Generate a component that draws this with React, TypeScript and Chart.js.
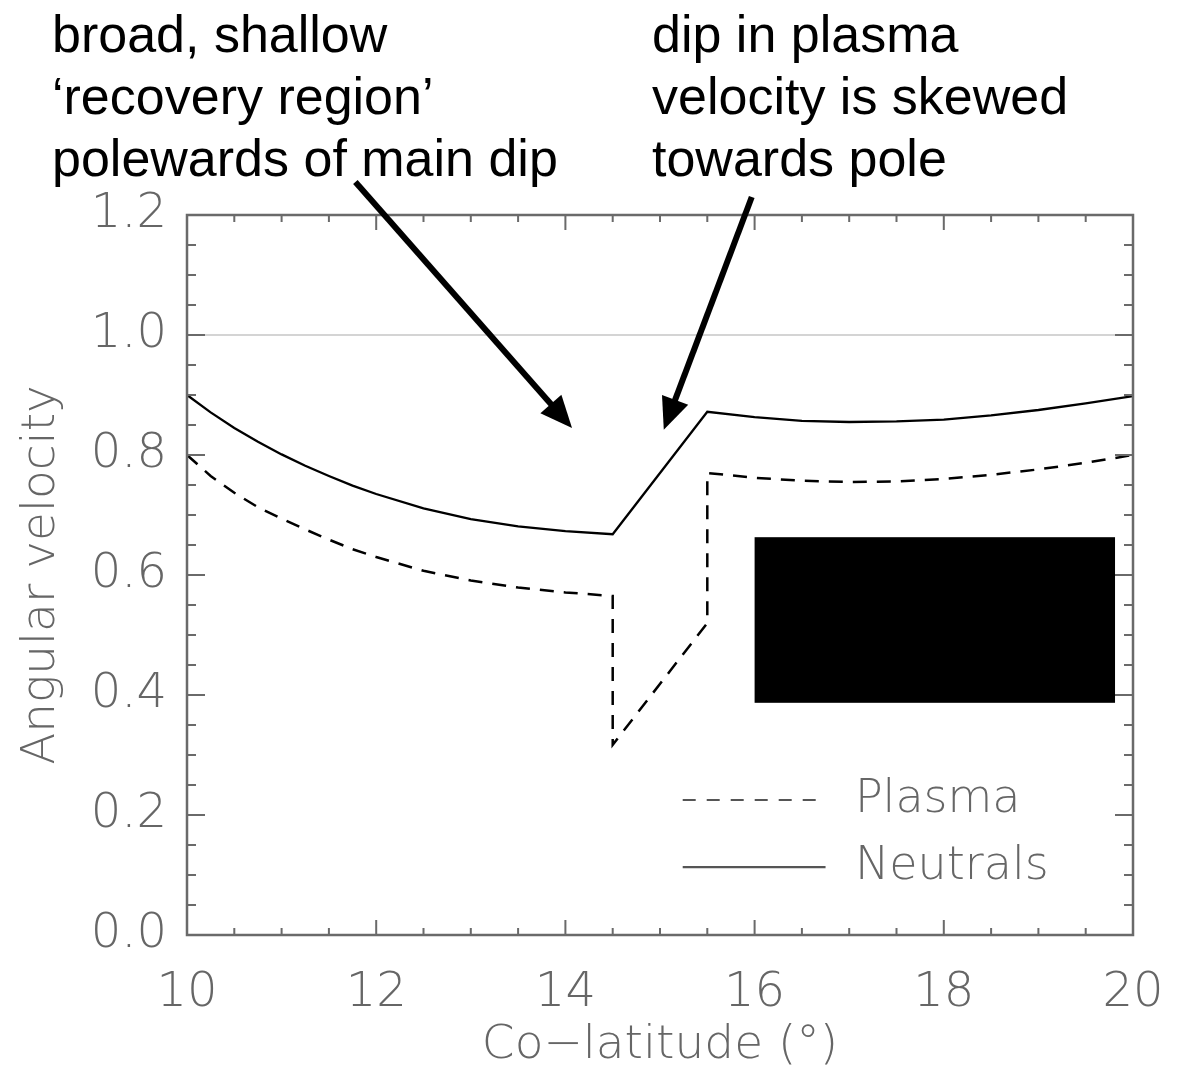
import { useEffect, useRef } from 'react';
import { Chart, registerables } from 'chart.js';

Chart.register(...registerables);

// ---- data ----
const neutralsColat = [10, 10.25, 10.5, 10.75, 11, 11.25, 11.5, 11.75, 12, 12.5, 13, 13.5, 14, 14.5, 15.5, 16, 16.5, 17, 17.5, 18, 18.5, 19, 19.5, 20];
const neutralsOmega = [0.9, 0.871, 0.845, 0.822, 0.801, 0.782, 0.765, 0.749, 0.735, 0.711, 0.693, 0.681, 0.673, 0.668, 0.872, 0.863, 0.857, 0.855, 0.856, 0.859, 0.866, 0.875, 0.886, 0.898];

const plasmaColat = [10, 10.25, 10.5, 10.75, 11, 11.25, 11.5, 11.75, 12, 12.5, 13, 13.5, 14, 14.5, 14.5, 15.5, 15.5, 16, 16.5, 17, 17.5, 18, 18.5, 19, 19.5, 20];
const plasmaOmega = [0.8, 0.765, 0.737, 0.713, 0.694, 0.676, 0.659, 0.643, 0.63, 0.607, 0.591, 0.579, 0.571, 0.565, 0.317, 0.52, 0.77, 0.762, 0.757, 0.755, 0.756, 0.76, 0.767, 0.776, 0.787, 0.8];

const xTickValues = [10, 12, 14, 16, 18, 20];
const yTickValues = [0, 0.2, 0.4, 0.6, 0.8, 1.0, 1.2];
const xMinorStep = 0.5;
const yMinorStep = 0.05;
const xTitle = 'Co\u2212latitude (\u00b0)';
const yTitle = 'Angular velocity';
const legendLabels = ['Plasma', 'Neutrals'];
const corotationLevel = 1.0;

const noteLeft = ['broad, shallow', '\u2018recovery region\u2019', 'polewards of main dip'];
const noteRight = ['dip in plasma', 'velocity is skewed', 'towards pole'];

// arrows, mask and legend anchors in data coordinates
const arrowLeftFrom = [11.78, 1.255];
const arrowLeftTo = [14.07, 0.845];
const arrowRightFrom = [15.97, 1.23];
const arrowRightTo = [15.04, 0.842];
const maskX = [16.0, 19.81];
const maskY = [0.387, 0.663];
const legendLineX = [15.24, 16.75];
const legendTextX = 17.06;
const legendY = [0.225, 0.113];

const AXIS_FONT = '"DejaVu Sans", sans-serif';
const AXIS_COLOR = '#666666';
const NOTE_FONT = '"Liberation Sans", Arial, sans-serif';

function drawArrow(ctx: CanvasRenderingContext2D, x0: number, y0: number, x1: number, y1: number) {
  const ang = Math.atan2(y1 - y0, x1 - x0);
  const headLen = 32;
  const headW = 14;
  const bx = x1 - headLen * Math.cos(ang);
  const by = y1 - headLen * Math.sin(ang);
  ctx.strokeStyle = '#000';
  ctx.lineWidth = 6;
  ctx.lineCap = 'butt';
  ctx.beginPath();
  ctx.moveTo(x0, y0);
  ctx.lineTo(bx + 4 * Math.cos(ang), by + 4 * Math.sin(ang));
  ctx.stroke();
  ctx.fillStyle = '#000';
  ctx.beginPath();
  ctx.moveTo(x1, y1);
  ctx.lineTo(bx + headW * Math.sin(ang), by - headW * Math.cos(ang));
  ctx.lineTo(bx - headW * Math.sin(ang), by + headW * Math.cos(ang));
  ctx.closePath();
  ctx.fill();
}

const decoPlugin = {
  id: 'deco',
  beforeDatasetsDraw(chart: any) {
    const { ctx, chartArea: a, scales } = chart;
    const y = scales.y;
    ctx.save();
    ctx.strokeStyle = '#d4d4d4';
    ctx.lineWidth = 2;
    const yy = y.getPixelForValue(corotationLevel);
    ctx.beginPath();
    ctx.moveTo(a.left, yy);
    ctx.lineTo(a.right, yy);
    ctx.stroke();
    ctx.restore();
  },
  afterDatasetsDraw(chart: any) {
    const { ctx, chartArea: a, scales } = chart;
    const x = scales.x;
    const y = scales.y;
    ctx.save();
    // frame
    ctx.strokeStyle = '#6a6a6a';
    ctx.lineWidth = 2.5;
    ctx.strokeRect(a.left, a.top, a.right - a.left, a.bottom - a.top);
    // ticks
    ctx.lineWidth = 2;
    ctx.beginPath();
    const nx = Math.round((x.max - x.min) / xMinorStep);
    for (let i = 0; i <= nx; i++) {
      const v = x.min + i * xMinorStep;
      const major = xTickValues.some((t) => Math.abs(t - v) < 1e-6);
      const len = major ? 15 : 7;
      const px = x.getPixelForValue(v);
      ctx.moveTo(px, a.bottom);
      ctx.lineTo(px, a.bottom - len);
      ctx.moveTo(px, a.top);
      ctx.lineTo(px, a.top + len);
    }
    const ny = Math.round((y.max - y.min) / yMinorStep);
    for (let i = 0; i <= ny; i++) {
      const v = y.min + i * yMinorStep;
      const major = yTickValues.some((t) => Math.abs(t - v) < 1e-6);
      const len = major ? 18 : 9;
      const py = y.getPixelForValue(v);
      ctx.moveTo(a.left, py);
      ctx.lineTo(a.left + len, py);
      ctx.moveTo(a.right, py);
      ctx.lineTo(a.right - len, py);
    }
    ctx.stroke();

    // mask box
    ctx.fillStyle = '#000';
    const mx0 = x.getPixelForValue(maskX[0]);
    const mx1 = x.getPixelForValue(maskX[1]);
    const my0 = y.getPixelForValue(maskY[1]);
    const my1 = y.getPixelForValue(maskY[0]);
    ctx.fillRect(mx0, my0, mx1 - mx0, my1 - my0);

    // legend
    ctx.strokeStyle = '#555';
    ctx.lineWidth = 2.2;
    ctx.font = `200 46px ${AXIS_FONT}`;
    ctx.fillStyle = AXIS_COLOR;
    ctx.textBaseline = 'middle';
    ctx.textAlign = 'left';
    const lx0 = x.getPixelForValue(legendLineX[0]);
    const lx1 = x.getPixelForValue(legendLineX[1]);
    const tx = x.getPixelForValue(legendTextX);
    legendLabels.forEach((lab, i) => {
      const ly = y.getPixelForValue(legendY[i]);
      ctx.setLineDash(i === 0 ? [13, 11] : []);
      ctx.beginPath();
      ctx.moveTo(lx0, ly);
      ctx.lineTo(lx1, ly);
      ctx.stroke();
      ctx.fillText(lab, tx, ly);
    });
    ctx.setLineDash([]);

    // arrows
    drawArrow(
      ctx,
      x.getPixelForValue(arrowLeftFrom[0]), y.getPixelForValue(arrowLeftFrom[1]),
      x.getPixelForValue(arrowLeftTo[0]), y.getPixelForValue(arrowLeftTo[1])
    );
    drawArrow(
      ctx,
      x.getPixelForValue(arrowRightFrom[0]), y.getPixelForValue(arrowRightFrom[1]),
      x.getPixelForValue(arrowRightTo[0]), y.getPixelForValue(arrowRightTo[1])
    );

    // notes
    ctx.fillStyle = '#000';
    ctx.font = `52px ${NOTE_FONT}`;
    ctx.textBaseline = 'alphabetic';
    ctx.textAlign = 'left';
    const baselines = [52, 114, 176];
    noteLeft.forEach((t, i) => ctx.fillText(t, 52, baselines[i]));
    noteRight.forEach((t, i) => ctx.fillText(t, 652, baselines[i]));
    ctx.restore();
  },
};

export default function App() {
  const ref = useRef<HTMLCanvasElement | null>(null);
  useEffect(() => {
    if (!ref.current) return;
    const chart = new Chart(ref.current, {
      type: 'line',
      data: {
        datasets: [
          {
            label: legendLabels[0],
            data: plasmaColat.map((c, i) => ({ x: c, y: plasmaOmega[i] })),
            borderColor: '#000',
            borderWidth: 2.5,
            borderDash: [14, 10],
            pointRadius: 0,
            fill: false,
            tension: 0,
          },
          {
            label: legendLabels[1],
            data: neutralsColat.map((c, i) => ({ x: c, y: neutralsOmega[i] })),
            borderColor: '#000',
            borderWidth: 2.3,
            pointRadius: 0,
            fill: false,
            tension: 0,
          },
        ],
      },
      options: {
        animation: false,
        responsive: false,
        maintainAspectRatio: false,
        events: [],
        layout: { padding: { top: 215, right: 45, left: 0, bottom: 0 } },
        plugins: { legend: { display: false }, tooltip: { enabled: false }, title: { display: false } },
        scales: {
          x: {
            type: 'linear',
            min: 10,
            max: 20,
            grid: { display: false, drawTicks: false },
            border: { display: false },
            afterBuildTicks: (s: any) => {
              s.ticks = xTickValues.map((v) => ({ value: v }));
            },
            afterFit: (s: any) => {
              s.height = 139;
              s.paddingLeft = 0;
              s.paddingRight = 0;
            },
            ticks: {
              autoSkip: false,
              maxRotation: 0,
              padding: 30,
              color: AXIS_COLOR,
              font: { family: AXIS_FONT, size: 48, weight: '200' },
              callback: (v: any) => String(v),
            },
            title: {
              display: true,
              text: xTitle,
              color: AXIS_COLOR,
              font: { family: AXIS_FONT, size: 47, weight: '200' },
              padding: { top: 0, bottom: 0 },
            },
          },
          y: {
            type: 'linear',
            min: 0,
            max: 1.2,
            grid: { display: false, drawTicks: false },
            border: { display: false },
            afterBuildTicks: (s: any) => {
              s.ticks = yTickValues.map((v) => ({ value: v }));
            },
            afterFit: (s: any) => {
              s.width = 187;
              s.paddingTop = 0;
              s.paddingBottom = 0;
            },
            ticks: {
              autoSkip: false,
              padding: 20,
              color: AXIS_COLOR,
              font: { family: AXIS_FONT, size: 48, weight: '200' },
              callback: (v: any) => Number(v).toFixed(1),
            },
            title: {
              display: true,
              text: yTitle,
              color: AXIS_COLOR,
              font: { family: AXIS_FONT, size: 47, weight: '200' },
              padding: { top: 14, bottom: 0 },
            },
          },
        },
      },
      plugins: [decoPlugin],
    } as any);
    return () => chart.destroy();
  }, []);
  return (
    <div style={{ position: 'absolute', left: 0, top: 0, width: 1178, height: 1074, background: '#fff' }}>
      <canvas ref={ref} width={1178} height={1074} style={{ display: 'block' }} />
    </div>
  );
}
